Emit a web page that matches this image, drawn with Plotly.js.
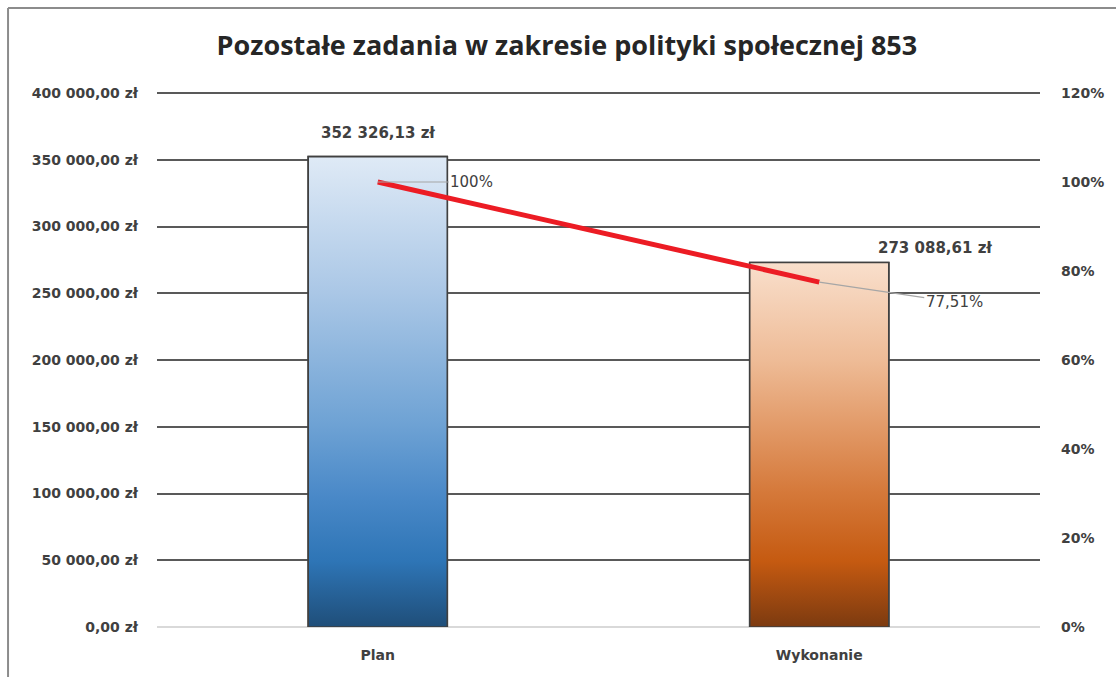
<!DOCTYPE html>
<html>
<head>
<meta charset="utf-8">
<script src="https://cdn.plot.ly/plotly-3.0.1.min.js"></script>
<style>
  html, body { margin: 0; padding: 0; background: #ffffff; }
  #chart { width: 1116px; height: 677px; }
</style>
</head>
<body>
<div id="chart"></div>
<script>
// ---- data ----
const categories = ['Plan', 'Wykonanie'];
const amounts = [352326.13, 273088.61];
const percentages = [100, 77.51];
const titleText = 'Pozostałe zadania w zakresie polityki społecznej 853';

// ---- style ----
const TITLE_FONT = '"Open Sans", "Noto Sans", sans-serif';
const FONT = '"DejaVu Sans", "Noto Sans", sans-serif';
const TXT = '#404040';
const BAR_W = 0.315;
const gradients = [
  [[0, '#1f4e79'], [0.14, '#2e75b6'], [0.28, '#4a89c8'], [0.43, '#6ea2d4'], [0.71, '#aac7e6'], [1, '#dfeaf6']],
  [[0, '#7c3a10'], [0.18, '#c55a11'], [0.37, '#d5793a'], [0.55, '#e29a68'], [0.73, '#eebb96'], [1, '#f9dfcc']]
];
const xPos = categories.map((c, i) => i);

function plMoney(v) {
  const parts = v.toFixed(2).split('.');
  return parts[0].replace(/\B(?=(\d{3})+(?!\d))/g, ' ') + ',' + parts[1] + ' zł';
}
function plPct(v) {
  return (Number.isInteger(v) ? String(v) : v.toFixed(2).replace('.', ',')) + '%';
}

const traces = [];
// the bars (data marks)
traces.push({
  type: 'bar', x: xPos, y: amounts, width: BAR_W,
  marker: { color: gradients.map(g => g[2][1]), line: { color: '#404040', width: 1.6 } },
  showlegend: false
});
// gradient fill laid over each bar, spanning the bar's own extent
xPos.forEach((xc, ci) => {
  const v = amounts[ci];
  traces.push({
    type: 'scatter', mode: 'lines',
    x: [xc - BAR_W / 2, xc + BAR_W / 2, xc + BAR_W / 2, xc - BAR_W / 2, xc - BAR_W / 2],
    y: [0, 0, v, v, 0],
    fill: 'toself',
    fillgradient: { type: 'vertical', colorscale: gradients[ci] },
    line: { color: '#404040', width: 1.6 },
    hoverinfo: 'skip', showlegend: false
  });
});
// percentage line
traces.push({
  type: 'scatter', mode: 'lines', x: xPos, y: percentages, yaxis: 'y2',
  line: { color: '#ec1c24', width: 5 }, showlegend: false
});

const annotations = [];
const valueShift = [[0, 13], [116, 3]];
xPos.forEach((xc, ci) => {
  annotations.push({
    x: xc, y: amounts[ci], xref: 'x', yref: 'y', text: plMoney(amounts[ci]),
    showarrow: false, yanchor: 'bottom', xshift: valueShift[ci][0], yshift: valueShift[ci][1],
    font: { family: FONT, size: 15, color: TXT, weight: 'bold' }
  });
});
const pctOffsets = [[94, 0], [135, 20]];
xPos.forEach((xc, ci) => {
  annotations.push({
    x: xc, y: percentages[ci], xref: 'x', yref: 'y2', text: plPct(percentages[ci]),
    showarrow: true, arrowhead: 0, arrowwidth: 1.2, arrowcolor: '#a6a6a6',
    ax: pctOffsets[ci][0], ay: pctOffsets[ci][1],
    font: { family: FONT, size: 15, color: TXT }
  });
});

const layout = {
  width: 1116, height: 677,
  margin: { l: 157, r: 76, t: 93, b: 50 },
  paper_bgcolor: '#ffffff', plot_bgcolor: '#ffffff',
  separators: ', ',
  barmode: 'overlay',
  font: { family: FONT, color: TXT },
  title: {
    text: titleText, x: 0.508, xanchor: 'center', y: 0.932, yanchor: 'middle',
    font: { family: TITLE_FONT, size: 27, color: '#262626', weight: 'bold' }
  },
  xaxis: {
    range: [-0.5, 1.5], tickvals: xPos, ticktext: categories,
    showgrid: false, showline: false, zeroline: false, ticks: '',
    ticklabelstandoff: 18,
    tickfont: { family: FONT, size: 14, color: TXT, weight: 'bold' }
  },
  yaxis: {
    range: [0, 400000], dtick: 50000, tickformat: ',.2f', ticksuffix: ' zł',
    showgrid: true, gridcolor: '#595959', gridwidth: 2,
    zeroline: true, zerolinecolor: '#d9d9d9', zerolinewidth: 2,
    showline: false, ticks: '', ticklabelstandoff: 18,
    tickfont: { family: FONT, size: 14, color: TXT, weight: 'bold' }
  },
  yaxis2: {
    overlaying: 'y', side: 'right', range: [0, 120], dtick: 20, ticksuffix: '%',
    showgrid: false, zeroline: false, showline: false, ticks: '', ticklabelstandoff: 20,
    tickfont: { family: FONT, size: 14, color: TXT, weight: 'bold' }
  },
  annotations: annotations,
  shapes: [
    { type: 'line', xref: 'paper', yref: 'paper', x0: 0, x1: 1, y0: 1, y1: 1,
      layer: 'below', line: { color: '#595959', width: 2 } },
    { type: 'line', xref: 'paper', yref: 'paper', x0: -0.1687, x1: -0.1687, y0: -0.1, y1: 1.159,
      line: { color: '#8c8c8c', width: 2 } },
    { type: 'line', xref: 'paper', yref: 'paper', x0: -0.1687, x1: 1.1, y0: 1.159, y1: 1.159,
      line: { color: '#8c8c8c', width: 2 } }
  ]
};

Plotly.newPlot('chart', traces, layout, { displayModeBar: false, staticPlot: true });
</script>
</body>
</html>
